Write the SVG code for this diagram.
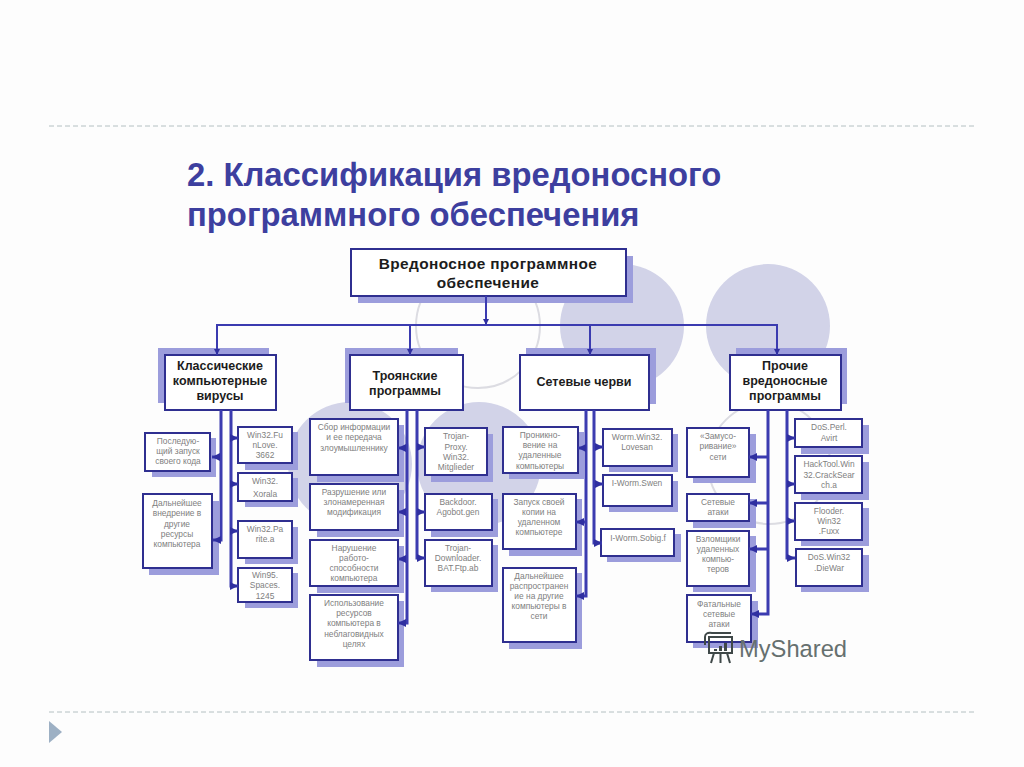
<svg xmlns="http://www.w3.org/2000/svg" width="1024" height="767" viewBox="0 0 1024 767">
<style>
text{font-family:"Liberation Sans",Arial,sans-serif;text-anchor:middle}
.t{font-size:32.8px;font-weight:bold;fill:#3d3f9f;text-anchor:start}
.h{font-size:12.5px;font-weight:bold;fill:#1c1c1c}
.rt{font-size:15.4px;letter-spacing:.4px}
.s{font-size:8.4px;fill:#808080}
.b{fill:#fff;stroke:#2f2f90;stroke-width:2}
.sh{fill:#9c9ddc}
.c{fill:none;stroke:#3b3bb0;stroke-width:3}
.c1{fill:none;stroke:#3b3bb0;stroke-width:2}
.d{fill:#d2d3e8}
.o{fill:none;stroke:#dcdce2;stroke-width:2}
.r{fill:none;stroke:#b4c0c2;stroke-width:1;stroke-dasharray:5 3}
.w{fill:none;stroke:#3f4848;stroke-width:2}
</style>
<defs>
<marker id="a" viewBox="0 0 8 8" refX="8" refY="4" markerWidth="8" markerHeight="8" markerUnits="userSpaceOnUse" orient="auto"><path d="M0 0L8 4L0 8Z" fill="#2f2fa0"/></marker>
<marker id="m" viewBox="0 0 6 6" refX="6" refY="3" markerWidth="6" markerHeight="6" markerUnits="userSpaceOnUse" orient="auto"><path d="M0 0L6 3L0 6Z" fill="#2f2fa0"/></marker>
</defs>
<rect width="1024" height="767" fill="#fdfdfd"/>
<g id="decor">
<line class="r" x1="49" y1="126" x2="975" y2="126"/>
<line class="r" x1="49" y1="712" x2="975" y2="712"/>
<path d="M49 721L62 732L49 743Z" fill="#9db0c4"/>
<circle class="d" cx="622" cy="326" r="62"/>
<circle class="d" cx="768" cy="326" r="62"/>
<circle class="o" cx="478" cy="326" r="62"/>
<circle class="d" cx="350" cy="464" r="62"/>
<circle class="d" cx="479" cy="464" r="62"/>
<circle class="o" cx="769" cy="463" r="61"/>
</g>
<g id="title">
<text class="t" x="187" y="186">2. Классификация вредоносного</text>
<text class="t" x="187" y="226">программного обеспечения</text>
</g>
<g id="n-root"><rect class="sh" x="358" y="256" width="275" height="47"/><rect class="b" x="351" y="249" width="275" height="47"/><text class="h rt" x="488" y="269">Вредоносное программное</text><text class="h rt" x="488" y="288">обеспечение</text></g>
<g id="n-classic"><rect class="sh" x="158" y="348" width="111" height="55"/><rect class="b" x="165" y="355" width="111" height="55"/><text class="h" x="220" y="370">Классические</text><text class="h" x="220" y="385">компьютерные</text><text class="h" x="220" y="400">вирусы</text></g>
<g id="n-trojan"><rect class="sh" x="345" y="348" width="113" height="55"/><rect class="b" x="350" y="355" width="113" height="55"/><text class="h" x="405" y="380">Троянские</text><text class="h" x="405" y="395">программы</text></g>
<g id="n-worms"><rect class="sh" x="526" y="348" width="130" height="56"/><rect class="b" x="520" y="355" width="129" height="55"/><text class="h" x="584" y="386">Сетевые черви</text></g>
<g id="n-other"><rect class="sh" x="736" y="348" width="111" height="56"/><rect class="b" x="730" y="355" width="111" height="55"/><text class="h" x="785" y="370">Прочие</text><text class="h" x="785" y="385">вредоносные</text><text class="h" x="785" y="400">программы</text></g>

<g id="n-c1"><rect class="sh" x="152" y="438" width="64" height="39"/><rect class="b" x="145" y="433" width="65" height="38"/><text class="s" x="178" y="444">Последую-</text><text class="s" x="178" y="454">щий запуск</text><text class="s" x="178" y="464">своего кода</text></g>
<g id="n-c2"><rect class="sh" x="149" y="501" width="70" height="74"/><rect class="b" x="143" y="494" width="69" height="74"/><text class="s" x="177" y="506">Дальнейшее</text><text class="s" x="177" y="516">внедрение в</text><text class="s" x="177" y="527">другие</text><text class="s" x="177" y="537">ресурсы</text><text class="s" x="177" y="547">компьютера</text></g>
<g id="n-c3"><rect class="sh" x="245" y="432" width="53" height="38"/><rect class="b" x="238" y="427" width="54" height="36"/><text class="s" x="265" y="438">Win32.Fu</text><text class="s" x="265" y="448">nLove.</text><text class="s" x="265" y="458">3662</text></g>
<g id="n-c4"><rect class="sh" x="245" y="478" width="53" height="29"/><rect class="b" x="238" y="473" width="54" height="28"/><text class="s" x="265" y="484">Win32.</text><text class="s" x="265" y="497">Xorala</text></g>
<g id="n-c5"><rect class="sh" x="245" y="527" width="53" height="37"/><rect class="b" x="238" y="521" width="54" height="37"/><text class="s" x="265" y="532">Win32.Pa</text><text class="s" x="265" y="542">rite.a</text></g>
<g id="n-c6"><rect class="sh" x="245" y="573" width="53" height="35"/><rect class="b" x="238" y="568" width="54" height="34"/><text class="s" x="265" y="578">Win95.</text><text class="s" x="265" y="588">Spaces.</text><text class="s" x="265" y="599">1245</text></g>

<g id="n-t1"><rect class="sh" x="317" y="425" width="87" height="57"/><rect class="b" x="310" y="419" width="88" height="56"/><text class="s" x="354" y="430">Сбор информации</text><text class="s" x="354" y="440">и ее передача</text><text class="s" x="354" y="451">злоумышленнику</text></g>
<g id="n-t2"><rect class="sh" x="317" y="490" width="87" height="47"/><rect class="b" x="310" y="484" width="88" height="46"/><text class="s" x="354" y="495">Разрушение или</text><text class="s" x="354" y="505">злонамеренная</text><text class="s" x="354" y="515">модификация</text></g>
<g id="n-t3"><rect class="sh" x="317" y="546" width="87" height="47"/><rect class="b" x="310" y="540" width="88" height="46"/><text class="s" x="354" y="551">Нарушение</text><text class="s" x="354" y="561">работо-</text><text class="s" x="354" y="571">способности</text><text class="s" x="354" y="581">компьютера</text></g>
<g id="n-t4"><rect class="sh" x="317" y="601" width="87" height="66"/><rect class="b" x="310" y="595" width="88" height="65"/><text class="s" x="354" y="606">Использование</text><text class="s" x="354" y="616">ресурсов</text><text class="s" x="354" y="626">компьютера в</text><text class="s" x="354" y="637">неблаговидных</text><text class="s" x="354" y="647">целях</text></g>
<g id="n-t5"><rect class="sh" x="431" y="434" width="62" height="48"/><rect class="b" x="425" y="428" width="62" height="47"/><text class="s" x="456" y="439">Trojan-</text><text class="s" x="456" y="450">Proxy.</text><text class="s" x="456" y="460">Win32.</text><text class="s" x="456" y="470">Mitglieder</text></g>
<g id="n-t6"><rect class="sh" x="431" y="499" width="67" height="38"/><rect class="b" x="425" y="494" width="67" height="36"/><text class="s" x="458" y="505">Backdoor.</text><text class="s" x="458" y="515">Agobot.gen</text></g>
<g id="n-t7"><rect class="sh" x="431" y="545" width="67" height="47"/><rect class="b" x="425" y="540" width="67" height="46"/><text class="s" x="458" y="551">Trojan-</text><text class="s" x="458" y="561">Downloader.</text><text class="s" x="458" y="571">BAT.Ftp.ab</text></g>

<g id="n-w1"><rect class="sh" x="509" y="432" width="75" height="47"/><rect class="b" x="503" y="427" width="75" height="46"/><text class="s" x="540" y="438">Проникно-</text><text class="s" x="540" y="448">вение на</text><text class="s" x="540" y="458">удаленные</text><text class="s" x="540" y="469">компьютеры</text></g>
<g id="n-w2"><rect class="sh" x="509" y="499" width="73" height="57"/><rect class="b" x="503" y="494" width="73" height="55"/><text class="s" x="539" y="505">Запуск своей</text><text class="s" x="539" y="515">копии на</text><text class="s" x="539" y="525">удаленном</text><text class="s" x="539" y="535">компьютере</text></g>
<g id="n-w3"><rect class="sh" x="509" y="573" width="73" height="76"/><rect class="b" x="503" y="568" width="73" height="74"/><text class="s" x="539" y="579">Дальнейшее</text><text class="s" x="539" y="589">распространен</text><text class="s" x="539" y="599">ие на другие</text><text class="s" x="539" y="609">компьютеры в</text><text class="s" x="539" y="619">сети</text></g>
<g id="n-w4"><rect class="sh" x="609" y="434" width="69" height="38"/><rect class="b" x="603" y="429" width="69" height="37"/><text class="s" x="637" y="440">Worm.Win32.</text><text class="s" x="637" y="450">Lovesan</text></g>
<g id="n-w5"><rect class="sh" x="609" y="481" width="69" height="31"/><rect class="b" x="603" y="475" width="69" height="31"/><text class="s" x="637" y="486">I-Worm.Swen</text></g>
<g id="n-w6"><rect class="sh" x="607" y="534" width="74" height="28"/><rect class="b" x="601" y="529" width="73" height="27"/><text class="s" x="638" y="541">I-Worm.Sobig.f</text></g>

<g id="n-o1"><rect class="sh" x="693" y="434" width="63" height="49"/><rect class="b" x="687" y="428" width="62" height="49"/><text class="s" x="718" y="439">«Замусо-</text><text class="s" x="718" y="449">ривание»</text><text class="s" x="718" y="460">сети</text></g>
<g id="n-o2"><rect class="sh" x="693" y="499" width="63" height="29"/><rect class="b" x="687" y="494" width="62" height="27"/><text class="s" x="718" y="505">Сетевые</text><text class="s" x="718" y="515">атаки</text></g>
<g id="n-o3"><rect class="sh" x="693" y="536" width="63" height="56"/><rect class="b" x="687" y="531" width="62" height="55"/><text class="s" x="718" y="542">Взломщики</text><text class="s" x="718" y="552">удаленных</text><text class="s" x="718" y="562">компью-</text><text class="s" x="718" y="572">теров</text></g>
<g id="n-o4"><rect class="sh" x="693" y="601" width="65" height="47"/><rect class="b" x="687" y="595" width="64" height="47"/><text class="s" x="719" y="607">Фатальные</text><text class="s" x="719" y="617">сетевые</text><text class="s" x="719" y="627">атаки</text></g>
<g id="n-o5"><rect class="sh" x="801" y="425" width="68" height="29"/><rect class="b" x="795" y="419" width="67" height="28"/><text class="s" x="829" y="430">DoS.Perl.</text><text class="s" x="829" y="441">Avirt</text></g>
<g id="n-o6"><rect class="sh" x="801" y="462" width="68" height="38"/><rect class="b" x="795" y="456" width="67" height="37"/><text class="s" x="829" y="467">HackTool.Win</text><text class="s" x="829" y="478">32.CrackSear</text><text class="s" x="829" y="488">ch.a</text></g>
<g id="n-o7"><rect class="sh" x="801" y="508" width="68" height="38"/><rect class="b" x="795" y="503" width="67" height="37"/><text class="s" x="829" y="514">Flooder.</text><text class="s" x="829" y="524">Win32</text><text class="s" x="829" y="534">.Fuxx</text></g>
<g id="n-o8"><rect class="sh" x="801" y="555" width="68" height="37"/><rect class="b" x="796" y="549" width="66" height="37"/><text class="s" x="829" y="560">DoS.Win32</text><text class="s" x="829" y="571">.DieWar</text></g>

<g id="connectors">
<path class="c1" d="M486 296V325" marker-end="url(#m)"/>
<path class="c1" d="M217 355V325H777V355" marker-end="url(#m)"/>
<path class="c1" d="M217 325V355" marker-end="url(#m)"/>
<path class="c1" d="M410 325V355" marker-end="url(#m)"/>
<path class="c1" d="M590 325V355" marker-end="url(#m)"/>
<path class="c" d="M221 410V540H213" marker-end="url(#a)"/>
<path class="c" d="M221 457H212" marker-end="url(#a)"/>
<path class="c" d="M231 410V586H238" marker-end="url(#a)"/>
<path class="c" d="M231 438H238" marker-end="url(#a)"/>
<path class="c" d="M231 484H238" marker-end="url(#a)"/>
<path class="c" d="M231 531H238" marker-end="url(#a)"/>
<path class="c" d="M407 410V623H398" marker-end="url(#a)"/>
<path class="c" d="M407 448H398" marker-end="url(#a)"/>
<path class="c" d="M407 512H398" marker-end="url(#a)"/>
<path class="c" d="M407 559H398" marker-end="url(#a)"/>
<path class="c" d="M417 410V558H425" marker-end="url(#a)"/>
<path class="c" d="M417 447H425" marker-end="url(#a)"/>
<path class="c" d="M417 512H425" marker-end="url(#a)"/>
<path class="c" d="M586 410V596H576" marker-end="url(#a)"/>
<path class="c" d="M586 448H578" marker-end="url(#a)"/>
<path class="c" d="M586 522H576" marker-end="url(#a)"/>
<path class="c" d="M594 410V543H602" marker-end="url(#a)"/>
<path class="c" d="M594 447H603" marker-end="url(#a)"/>
<path class="c" d="M594 484H603" marker-end="url(#a)"/>
<path class="c" d="M768 410V614H751" marker-end="url(#a)"/>
<path class="c" d="M768 457H749" marker-end="url(#a)"/>
<path class="c" d="M768 503H749" marker-end="url(#a)"/>
<path class="c" d="M768 549H749" marker-end="url(#a)"/>
<path class="c" d="M787 410V558H795" marker-end="url(#a)"/>
<path class="c" d="M787 438H795" marker-end="url(#a)"/>
<path class="c" d="M787 484H795" marker-end="url(#a)"/>
<path class="c" d="M787 521H795" marker-end="url(#a)"/>
</g>
<g id="watermark">
<rect class="w" x="709" y="637" width="23" height="16"/>
<path class="w" d="M705 645V637Q705 632 712 633H731M714 653L711 663M727 653L730 663M720.500 653V663"/>
<path d="M714 649h3v2h-3zM719 646h3v5h-3zM724 643h3v8h-3z" fill="#3f4848"/>
<text x="793" y="657" style="font-size:23.700px;fill:#66706f">MyShared</text>
</g>
</svg>
